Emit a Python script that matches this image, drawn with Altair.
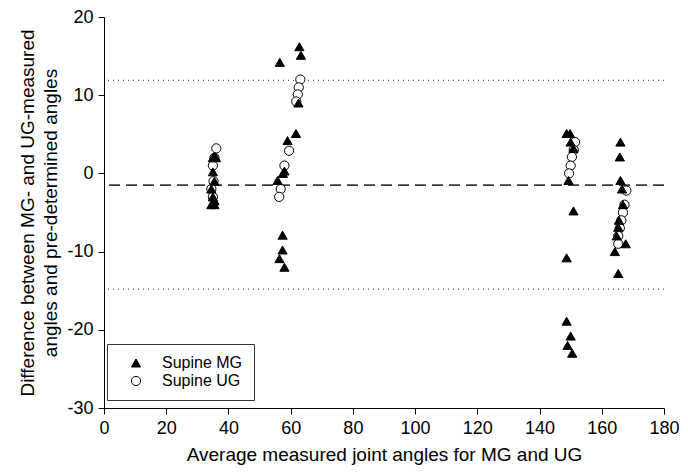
import altair as alt
import pandas as pd

# Supine MG (filled triangles)
mg_x = [35, 35.5, 36, 35, 35.5, 34.5, 35, 35.5, 34.5, 35.5, 35,
        56.5, 62.8, 63.3, 62.5, 61.7, 59, 58, 57.5, 55.8, 57.4, 57.4, 56.4, 58,
        148.7, 149.8, 150, 150.9, 149.3, 150.9, 148.7, 148.7, 150, 149, 150.5,
        166, 165.8, 166, 166.5, 166.8, 165.5, 165.3, 164.8, 167.7, 164.2, 165.3]
mg_y = [2, 2.2, 2, 0.2, -1, -2, -3, -3.5, -4, -4, -3.8,
        14.2, 16.2, 15.1, 9, 5.1, 4.2, 0.3, 0, -0.9, -7.9, -9.8, -10.9, -12,
        5.1, 5.1, 4, 3.2, -0.9, -4.8, -10.8, -18.9, -20.8, -22, -23,
        4, 2.1, -0.9, -2, -4, -6, -6.9, -8, -9, -10, -12.8]

# Supine UG (open circles)
ug_x = [36.1, 35.5, 35, 35.2, 34.5, 35,
        63.1, 62.6, 62.3, 61.8, 59.5, 58, 56.8, 56.3,
        151.4, 151, 150.4, 150, 149.5,
        167.9, 167.3, 166.8, 166.3, 165.8, 165.3, 165.3]
ug_y = [3.2, 2, 1, -1, -2, -3,
        12, 11, 10.1, 9.2, 2.9, 1, -2, -3,
        4, 3, 2.1, 1, 0,
        -2.2, -4, -5, -6, -7, -8, -9]

series_names = ["Supine MG", "Supine UG"]
mean_diff = [-1.5]
limits = [11.9, -14.8]
x_ticks = list(range(0, 181, 20))
y_ticks = list(range(-30, 21, 10))

df = pd.DataFrame({
    "x": ug_x + mg_x,
    "y": ug_y + mg_y,
    "series": [series_names[1]] * len(ug_x) + [series_names[0]] * len(mg_x),
})

FONT = "Liberation Sans"
xscale = alt.Scale(domain=[0, 180], nice=False, zero=False)
yscale = alt.Scale(domain=[-30, 20], nice=False, zero=False)

legend = alt.Legend(
    title=None, orient="none", legendX=3, legendY=327,
    strokeColor="#333", padding=11, labelFontSize=16, labelFont=FONT,
    labelColor="black", labelOffset=18, symbolOffset=10, rowPadding=2,
    symbolStrokeWidth=1, symbolSize=85,
)

points = alt.Chart(df).mark_point(
    filled=True, size=85, strokeWidth=1, opacity=1
).encode(
    x=alt.X("x:Q", scale=xscale,
            axis=alt.Axis(values=x_ticks, title="Average measured joint angles for MG and UG",
                          titlePadding=8, labelFlush=False)),
    y=alt.Y("y:Q", scale=yscale,
            axis=alt.Axis(values=y_ticks,
                          title=["Difference between MG- and UG-measured",
                                 "angles and pre-determined angles"],
                          titlePadding=6, titleLineHeight=23, labelFlush=False)),
    shape=alt.Shape("series:N", scale=alt.Scale(domain=series_names, range=["triangle-up", "circle"]),
                    legend=legend),
    fill=alt.Fill("series:N", scale=alt.Scale(domain=series_names, range=["black", "white"]),
                  legend=legend),
    stroke=alt.Stroke("series:N", scale=alt.Scale(domain=series_names, range=["black", "black"]),
                      legend=legend),
)

mean_rule = alt.Chart(pd.DataFrame({"y": mean_diff})).mark_rule(
    strokeDash=[11, 6], color="#3a3a3a", strokeWidth=1.6
).encode(y=alt.Y("y:Q", scale=yscale))

limit_rules = alt.Chart(pd.DataFrame({"y": limits})).mark_rule(
    strokeDash=[1, 4], color="#555", strokeWidth=1.2
).encode(y=alt.Y("y:Q", scale=yscale))

chart = alt.layer(limit_rules, mean_rule, points).properties(
    width=560, height=391,
    autosize=alt.AutoSizeParams(type="none"),
    padding={"left": 96, "top": 9, "right": 16, "bottom": 57},
).configure_view(stroke=None).configure_axis(
    grid=False, domainColor="black", tickColor="black", tickSize=6,
    labelFont=FONT, labelFontSize=18, labelColor="black", labelPadding=5,
    labelExpr="'' + datum.value",
    titleFont=FONT, titleFontSize=19, titleFontWeight="normal", titleColor="black",
    domainWidth=1, tickWidth=1,
)

chart.save("out.html", embed_options={"renderer": "svg", "actions": False})
